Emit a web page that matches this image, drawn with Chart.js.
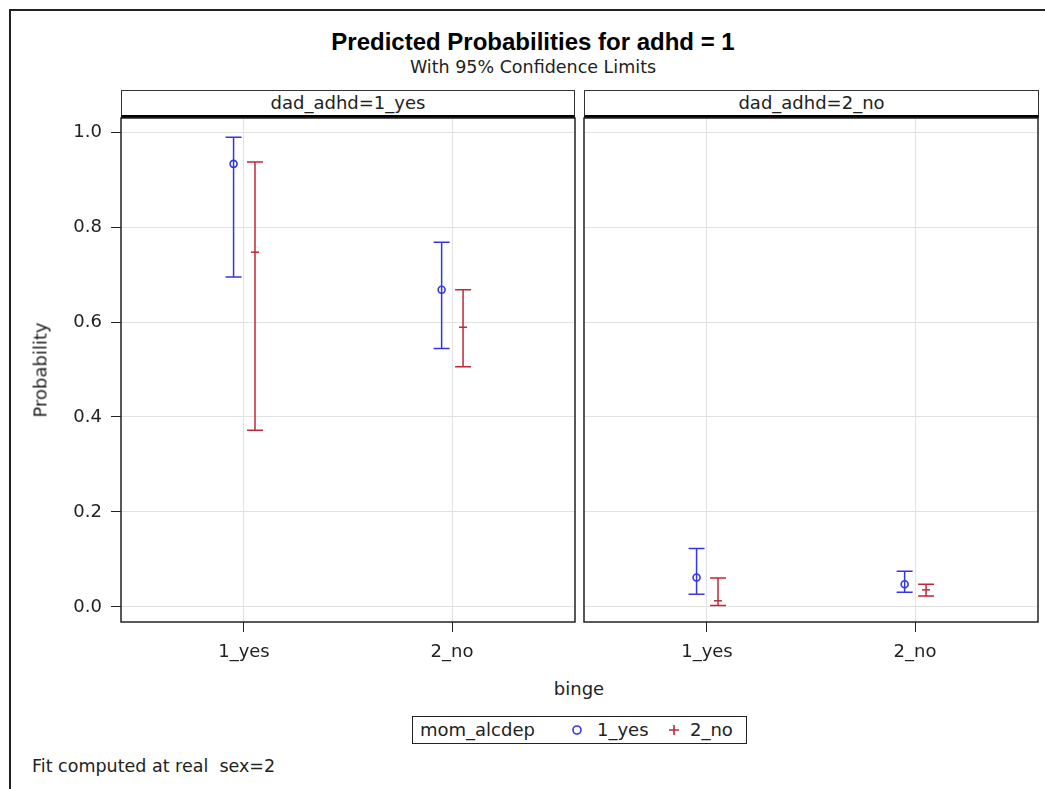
<!DOCTYPE html>
<html>
<head>
<meta charset="utf-8">
<script src="https://cdn.jsdelivr.net/npm/chart.js@4.4.1/dist/chart.umd.min.js"></script>
<style>
  body { margin: 0; background: #fff; font-family: 'DejaVu Sans', sans-serif; color: #222; }
  #page { position: relative; width: 1045px; height: 789px; overflow: hidden; }
  .frame { position: absolute; left: 9px; top: 9px; width: 1060px; height: 800px; border: 2px solid #222; box-sizing: border-box; }
  .abs { position: absolute; white-space: nowrap; }
  .title { left: 0; width: 1066px; top: 28px; text-align: center; font-family: 'Liberation Sans', Arial, sans-serif; font-weight: bold; font-size: 24px; color: #000; }
  .subtitle { left: 0; width: 1066px; top: 57px; text-align: center; font-size: 17.5px; }
  .hdr { top: 90px; height: 28px; border: 1.5px solid #333; border-bottom: 3px solid #000; box-sizing: border-box; text-align: center; font-size: 18px; line-height: 24px; }
  canvas { position: absolute; }
  .ytitle { left: 40px; top: 370px; transform: translate(-50%, -50%) rotate(-90deg); font-size: 18px; }
  .xtitle { left: 579px; top: 688px; transform: translate(-50%, -50%); font-size: 18px; }
  .legend { left: 412px; top: 716px; width: 335px; height: 28px; border: 1.5px solid #222; box-sizing: border-box; font-size: 18px; }
  .legend > * { position: absolute; top: 1px; line-height: 24px; }
  .legend svg { top: 7px; }
  .foot { left: 32px; top: 756px; font-size: 17.5px; }
</style>
</head>
<body>
<div id="page">
  <div class="frame"></div>
  <div class="abs title">Predicted Probabilities for adhd = 1</div>
  <div class="abs subtitle">With 95% Confidence Limits</div>
  <div class="abs hdr" style="left:121px;width:454px;">dad_adhd=1_yes</div>
  <div class="abs hdr" style="left:584px;width:455px;">dad_adhd=2_no</div>
  <canvas id="c1" width="580" height="560" style="left:0;top:117px;"></canvas>
  <canvas id="c2" width="465" height="560" style="left:580px;top:117px;"></canvas>
  <div class="abs ytitle">Probability</div>
  <div class="abs xtitle">binge</div>
  <div class="abs legend">
    <span style="left:7px;">mom_alcdep</span>
    <svg width="12" height="12" style="left:158px;"><circle cx="6" cy="6" r="4" fill="none" stroke="#3535e8" stroke-width="1.6"/></svg>
    <span style="left:184px;">1_yes</span>
    <svg width="12" height="12" style="left:255px;"><path d="M6 1V11M1 6H11" stroke="#c0283a" stroke-width="1.6"/></svg>
    <span style="left:277px;">2_no</span>
  </div>
  <div class="abs foot">Fit computed at real&nbsp;&nbsp;sex=2</div>
</div>
<script>
// categories on the x axis (binge) and the two panels (dad_adhd)
const bingeLevels = ['1_yes', '2_no'];
const panels = ['dad_adhd=1_yes', 'dad_adhd=2_no'];
const yTicks = [0, 0.2, 0.4, 0.6, 0.8, 1.0];

// mom_alcdep = 1_yes
const yesEst1 = [0.933, 0.668];
const yesLow1 = [0.695, 0.544];
const yesUpp1 = [0.989, 0.768];
const yesEst2 = [0.062, 0.048];
const yesLow2 = [0.027, 0.031];
const yesUpp2 = [0.123, 0.075];

// mom_alcdep = 2_no
const noEst1 = [0.747, 0.589];
const noLow1 = [0.372, 0.506];
const noUpp1 = [0.937, 0.668];
const noEst2 = [0.013, 0.036];
const noLow2 = [0.003, 0.023];
const noUpp2 = [0.061, 0.048];

const BLUE = '#3535e8';
const RED = '#c0283a';
const GRID = '#e2e2e2';
const AXIS = '#222';
const FONT = { family: "'DejaVu Sans', sans-serif", size: 18 };

function points(est, shift) {
  return est.map((v, i) => ({ x: i + 1 + shift, y: v }));
}

// draw the confidence limits with caps, through the chart's scales
const errorBars = {
  id: 'errorBars',
  afterDatasetsDraw(chart) {
    const { ctx, scales: { x, y } } = chart;
    chart.data.datasets.forEach(ds => {
      ctx.save();
      ctx.strokeStyle = ds.borderColor;
      ctx.lineWidth = 1.5;
      ds.data.forEach((p, i) => {
        const px = x.getPixelForValue(p.x);
        const top = y.getPixelForValue(ds.upper[i]);
        const bot = y.getPixelForValue(ds.lower[i]);
        ctx.beginPath();
        ctx.moveTo(px, top); ctx.lineTo(px, bot);
        ctx.moveTo(px - 8, top); ctx.lineTo(px + 8, top);
        ctx.moveTo(px - 8, bot); ctx.lineTo(px + 8, bot);
        ctx.stroke();
      });
      ctx.restore();
    });
  }
};

const frameBox = {
  id: 'frameBox',
  afterDraw(chart) {
    const { ctx, chartArea: a } = chart;
    ctx.save();
    ctx.strokeStyle = AXIS;
    ctx.lineWidth = 1.5;
    ctx.strokeRect(a.left, a.top, a.right - a.left, a.bottom - a.top);
    ctx.restore();
  }
};

function makePanel(id, yesE, yesL, yesU, noE, noL, noU, showY, pad) {
  return new Chart(document.getElementById(id), {
    type: 'scatter',
    data: {
      datasets: [
        { label: '1_yes', data: points(yesE, -0.05), lower: yesL, upper: yesU,
          borderColor: BLUE, backgroundColor: 'rgba(0,0,0,0)', pointStyle: 'circle',
          pointRadius: 3.5, borderWidth: 1.6 },
        { label: '2_no', data: points(noE, 0.053), lower: noL, upper: noU,
          borderColor: RED, backgroundColor: RED, pointStyle: 'line',
          pointRadius: 4, borderWidth: 1.5 }
      ]
    },
    options: {
      responsive: false,
      animation: false,
      layout: { padding: pad, autoPadding: false },
      plugins: { legend: { display: false }, tooltip: { enabled: false } },
      scales: {
        x: {
          type: 'linear', min: 0.409, max: 2.591,
          afterBuildTicks: s => { s.ticks = bingeLevels.map((_, i) => ({ value: i + 1 })); },
          afterFit: s => { s.height = 55; s.paddingLeft = 0; s.paddingRight = 0; },
          grid: { color: GRID, tickColor: AXIS, tickLength: 10 },
          border: { display: false },
          ticks: { color: '#222', font: FONT, padding: 10, maxRotation: 0,
                   callback: v => bingeLevels[Math.round(v) - 1] }
        },
        y: {
          min: -0.0316, max: 1.0295,
          afterBuildTicks: s => { s.ticks = yTicks.map(v => ({ value: v })); },
          afterFit: s => { s.width = showY ? 121 : 4; s.paddingTop = 0; s.paddingBottom = 0; },
          grid: { color: GRID, tickColor: AXIS, tickLength: 10, drawTicks: showY },
          border: { display: false },
          ticks: { display: showY, color: '#222', font: FONT, padding: 9,
                   callback: v => v.toFixed(1) }
        }
      }
    },
    plugins: [errorBars, frameBox]
  });
}

makePanel('c1', yesEst1, yesLow1, yesUpp1, noEst1, noLow1, noUpp1, true, { top: 1, right: 5, left: 0, bottom: 0 });
makePanel('c2', yesEst2, yesLow2, yesUpp2, noEst2, noLow2, noUpp2, false, { top: 1, right: 7, left: 0, bottom: 0 });
</script>
</body>
</html>
